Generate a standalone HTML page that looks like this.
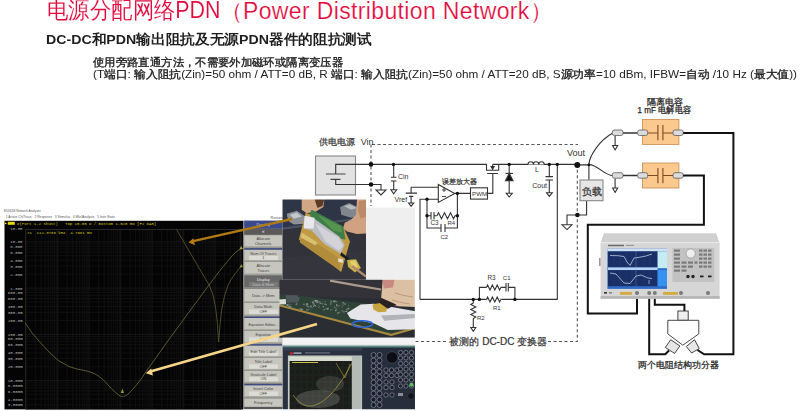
<!DOCTYPE html>
<html><head><meta charset="utf-8">
<style>
html,body{margin:0;padding:0;background:#fff;}
body{width:800px;height:411px;position:relative;overflow:hidden;font-family:"Liberation Sans",sans-serif;}
.t{position:absolute;white-space:nowrap;line-height:1;}
#title{left:47px;top:-1px;font-size:23px;-webkit-text-stroke:0.12px #fff;paint-order:fill stroke;letter-spacing:0px;color:#e2083b;transform-origin:0 0;transform:scaleX(0.93);}
#title2{left:219.6px;top:0.4px;font-size:23px;-webkit-text-stroke:0.22px #fff;color:#e2083b;letter-spacing:0.36px;}
#sub{left:46px;top:33px;font-size:13.5px;transform-origin:0 0;transform:scaleX(1.049);font-weight:bold;color:#1e1e1e;}
#l3{left:93px;top:56.5px;font-size:11.3px;font-weight:500;transform-origin:0 0;transform:scaleX(1.033);color:#222;}
#l4{left:93px;top:69px;font-size:11px;font-weight:500;transform-origin:0 0;transform:scaleX(1.068);color:#222;}
svg{position:absolute;left:0;top:0;}
.c{-webkit-text-stroke:0.35px #222;}
</style></head><body>
<div class="t" id="title">电源分配网络PDN</div><div class="t" id="title2">（Power Distribution Network）</div>
<div class="t" id="sub">DC-DC和PDN输出阻抗及无源PDN器件的阻抗测试</div>
<div class="t" id="l3"><span class="c">使用旁路直通方法，不需要外加磁环或隔离变压器</span></div>
<div class="t" id="l4">(T<span class="c">端口</span>: <span class="c">输入阻抗</span>(Zin)=50 ohm / ATT=0 dB, R <span class="c">端口</span>: <span class="c">输入阻抗</span>(Zin)=50 ohm / ATT=20 dB, S<span class="c">源功率</span>=10 dBm, IFBW=<span class="c">自动</span> /10 Hz (<span class="c">最大值</span>))</div>

<svg width="800" height="411" viewBox="0 0 800 411" font-family="Liberation Sans, sans-serif">
<defs>
<linearGradient id="g1" x1="0" y1="0" x2="0" y2="1"><stop offset="0" stop-color="#2a2c32"/><stop offset="1" stop-color="#34363d"/></linearGradient>
<filter id="bl" x="-5%" y="-5%" width="110%" height="110%"><feGaussianBlur stdDeviation="0.45"/></filter>
<clipPath id="c1"><rect x="282.5" y="199.5" width="83.5" height="80.3"/></clipPath>
<clipPath id="c2"><rect x="279.5" y="279.7" width="135.3" height="58.1"/></clipPath>
<clipPath id="c3"><rect x="282.5" y="345.6" width="132.5" height="63.6"/></clipPath>
</defs>
<!-- ============ ANALYZER SCREENSHOT ============ -->
<g id="analyzer">
<text x="4" y="212" font-size="4.3" fill="#555" textLength="36.8" lengthAdjust="spacingAndGlyphs">E5061B Network Analyzer</text>
<text x="5.8" y="218.4" font-size="4" fill="#555" xml:space="preserve" textLength="109" lengthAdjust="spacingAndGlyphs">1 Active Ch/Trace   2 Response   3 Stimulus   4 Mkr/Analysis   5 Instr State</text>
<text x="270.5" y="218.6" font-size="4" fill="#555">Resize</text>
<rect x="4.5" y="220.8" width="239" height="188.6" fill="#040404"/>
<g stroke-width="0.8" fill="none">
<path d="M35.7 229.5V409" stroke="#131313"/>
<path d="M41.2 229.5V409" stroke="#131313"/>
<path d="M45.2 229.5V409" stroke="#131313"/>
<path d="M48.2 229.5V409" stroke="#131313"/>
<path d="M50.7 229.5V409" stroke="#131313"/>
<path d="M52.8 229.5V409" stroke="#131313"/>
<path d="M54.6 229.5V409" stroke="#131313"/>
<path d="M56.3 229.5V409" stroke="#131313"/>
<path d="M57.7 229.5V409" stroke="#1b1b1b"/>
<path d="M67.2 229.5V409" stroke="#131313"/>
<path d="M72.7 229.5V409" stroke="#131313"/>
<path d="M76.7 229.5V409" stroke="#131313"/>
<path d="M79.7 229.5V409" stroke="#131313"/>
<path d="M82.2 229.5V409" stroke="#131313"/>
<path d="M84.3 229.5V409" stroke="#131313"/>
<path d="M86.1 229.5V409" stroke="#131313"/>
<path d="M87.8 229.5V409" stroke="#131313"/>
<path d="M89.2 229.5V409" stroke="#1b1b1b"/>
<path d="M98.7 229.5V409" stroke="#131313"/>
<path d="M104.2 229.5V409" stroke="#131313"/>
<path d="M108.2 229.5V409" stroke="#131313"/>
<path d="M111.2 229.5V409" stroke="#131313"/>
<path d="M113.7 229.5V409" stroke="#131313"/>
<path d="M115.8 229.5V409" stroke="#131313"/>
<path d="M117.6 229.5V409" stroke="#131313"/>
<path d="M119.3 229.5V409" stroke="#131313"/>
<path d="M120.7 229.5V409" stroke="#1b1b1b"/>
<path d="M130.2 229.5V409" stroke="#131313"/>
<path d="M135.7 229.5V409" stroke="#131313"/>
<path d="M139.7 229.5V409" stroke="#131313"/>
<path d="M142.7 229.5V409" stroke="#131313"/>
<path d="M145.2 229.5V409" stroke="#131313"/>
<path d="M147.3 229.5V409" stroke="#131313"/>
<path d="M149.1 229.5V409" stroke="#131313"/>
<path d="M150.8 229.5V409" stroke="#131313"/>
<path d="M152.2 229.5V409" stroke="#1b1b1b"/>
<path d="M161.7 229.5V409" stroke="#131313"/>
<path d="M167.2 229.5V409" stroke="#131313"/>
<path d="M171.2 229.5V409" stroke="#131313"/>
<path d="M174.2 229.5V409" stroke="#131313"/>
<path d="M176.7 229.5V409" stroke="#131313"/>
<path d="M178.8 229.5V409" stroke="#131313"/>
<path d="M180.6 229.5V409" stroke="#131313"/>
<path d="M182.3 229.5V409" stroke="#131313"/>
<path d="M183.7 229.5V409" stroke="#1b1b1b"/>
<path d="M193.2 229.5V409" stroke="#131313"/>
<path d="M198.7 229.5V409" stroke="#131313"/>
<path d="M202.7 229.5V409" stroke="#131313"/>
<path d="M205.7 229.5V409" stroke="#131313"/>
<path d="M208.2 229.5V409" stroke="#131313"/>
<path d="M210.3 229.5V409" stroke="#131313"/>
<path d="M212.1 229.5V409" stroke="#131313"/>
<path d="M213.8 229.5V409" stroke="#131313"/>
<path d="M215.2 229.5V409" stroke="#1b1b1b"/>
<path d="M224.7 229.5V409" stroke="#131313"/>
<path d="M230.2 229.5V409" stroke="#131313"/>
<path d="M234.2 229.5V409" stroke="#131313"/>
<path d="M237.2 229.5V409" stroke="#131313"/>
<path d="M239.7 229.5V409" stroke="#131313"/>
<path d="M25.8 404.9H241" stroke="#131313"/>
<path d="M25.8 399.1H241" stroke="#131313"/>
<path d="M25.8 394.6H241" stroke="#131313"/>
<path d="M25.8 391.0H241" stroke="#131313"/>
<path d="M25.8 387.9H241" stroke="#131313"/>
<path d="M25.8 385.2H241" stroke="#131313"/>
<path d="M25.8 382.8H241" stroke="#131313"/>
<path d="M25.8 380.7H241" stroke="#1b1b1b"/>
<path d="M25.8 366.8H241" stroke="#131313"/>
<path d="M25.8 358.6H241" stroke="#131313"/>
<path d="M25.8 352.8H241" stroke="#131313"/>
<path d="M25.8 348.3H241" stroke="#131313"/>
<path d="M25.8 344.7H241" stroke="#131313"/>
<path d="M25.8 341.6H241" stroke="#131313"/>
<path d="M25.8 338.9H241" stroke="#131313"/>
<path d="M25.8 336.5H241" stroke="#131313"/>
<path d="M25.8 334.4H241" stroke="#1b1b1b"/>
<path d="M25.8 320.5H241" stroke="#131313"/>
<path d="M25.8 312.3H241" stroke="#131313"/>
<path d="M25.8 306.5H241" stroke="#131313"/>
<path d="M25.8 302.0H241" stroke="#131313"/>
<path d="M25.8 298.4H241" stroke="#131313"/>
<path d="M25.8 295.3H241" stroke="#131313"/>
<path d="M25.8 292.6H241" stroke="#131313"/>
<path d="M25.8 290.2H241" stroke="#131313"/>
<path d="M25.8 288.1H241" stroke="#1b1b1b"/>
<path d="M25.8 274.2H241" stroke="#131313"/>
<path d="M25.8 266.0H241" stroke="#131313"/>
<path d="M25.8 260.2H241" stroke="#131313"/>
<path d="M25.8 255.7H241" stroke="#131313"/>
<path d="M25.8 252.1H241" stroke="#131313"/>
<path d="M25.8 249.0H241" stroke="#131313"/>
<path d="M25.8 246.3H241" stroke="#131313"/>
<path d="M25.8 243.9H241" stroke="#131313"/>
<path d="M25.8 241.8H241" stroke="#1b1b1b"/>
</g>
<rect x="25.8" y="229.5" width="215.2" height="180" fill="none" stroke="#3a3a3a" stroke-width="0.7"/>
<g font-family="Liberation Mono, monospace" font-size="4.1" fill="#b8b8b8" text-anchor="end">
<text x="22.6" y="230.3">15.00</text>
<text x="22.6" y="243.3">10.00</text>
<text x="22.6" y="247.8">8.000</text>
<text x="22.6" y="253.6">6.000</text>
<text x="22.6" y="261.7">4.000</text>
<text x="22.6" y="267.5">3.000</text>
<text x="22.6" y="275.7">2.000</text>
<text x="22.6" y="289.6">1.000</text>
<text x="22.6" y="294.1">800.0m</text>
<text x="22.6" y="299.9">600.0m</text>
<text x="22.6" y="308.0">400.0m</text>
<text x="22.6" y="313.8">300.0m</text>
<text x="22.6" y="322.0">200.0m</text>
<text x="22.6" y="335.9">100.0m</text>
<text x="22.6" y="340.4">80.00m</text>
<text x="22.6" y="346.2">60.00m</text>
<text x="22.6" y="354.3">40.00m</text>
<text x="22.6" y="360.1">30.00m</text>
<text x="22.6" y="368.3">20.00m</text>
<text x="22.6" y="382.2">10.00m</text>
<text x="22.6" y="386.7">8.000m</text>
<text x="22.6" y="392.5">6.000m</text>
<text x="22.6" y="400.6">4.000m</text>
<text x="22.6" y="406.4">3.000m</text>
</g>
<path d="M4.8 222.2L7 223.4L4.8 224.6Z" fill="#f0e000"/>
<rect x="7.8" y="221.8" width="7" height="3" fill="#e8d800"/>
<text x="17" y="225.2" font-family="Liberation Mono, monospace" font-size="4" fill="#d8c800" xml:space="preserve">Z(Port 1-2 Shunt)   Top 15.00 Ω / Bottom 1.020 mΩ [F2 DAR]</text>
<text x="27" y="234" font-family="Liberation Mono, monospace" font-size="4" fill="#d8c800" xml:space="preserve">&gt;1  112.3788 kHz  4.7681 mΩ</text>
<polyline points="25.3,323 32,333 39,341 49,352 59,361 69,366.5 77,369 85,370.6 91,372.2 97,375 103,379.5 108,385 112,389.2 115.5,392.6 119,395.3 121.7,396.4 124.5,396.2 127,395 130,392.2 133.6,388.3 137,384.3 140,380.6 146,371.7 160,352 170,338 180,324.5 197.5,300.5 209,285 220,270.5 227.4,261.5 231,257 235,253 238,250.5 241,248.3" fill="none" stroke="#69643a" stroke-width="0.85"/>
<polyline points="176.5,229.5 192,256 209.5,285.7 213,295 215.5,307 217.3,322 218.6,342 220,325 221.6,310 224.5,296 227.7,286 231,279.5 235.3,273.6 238.5,269.5 241.2,266.3" fill="none" stroke="#5a5632" stroke-width="0.85"/>
<path d="M241 246L243 249L239.5 249.5Z" fill="#b0a440"/>
<path d="M241.2 264.2L243 267L239.6 267.5Z" fill="#a09840"/>
<path d="M122.4 388.5L124 393H120.8Z" fill="#9a9040"/>
<rect x="243.2" y="220.7" width="39.3" height="188.4" fill="#8c8c88"/>
<rect x="244.3" y="406.6" width="38" height="2.5" fill="#55565a"/>
<rect x="244.3" y="220.7" width="38" height="8" fill="#3b4a8e"/>
<text x="263.3" y="226.3" fill="#d8dcf0" text-anchor="middle" font-size="4.2">Display</text>
<rect x="244.3" y="228.7" width="38" height="6" fill="#5a5a5a"/>
<text x="263.3" y="233.3" fill="#eee" text-anchor="middle" font-size="4.5">«</text>
<rect x="244.3" y="235.3" width="38" height="11.9" fill="#c6c6be"/>
<path d="M244.3 246.7H282.3" stroke="#9a9a94" stroke-width="0.8"/>
<text x="263.3" y="240.1" fill="#444" text-anchor="middle" font-size="3.9">Allocate</text>
<text x="263.3" y="244.8" fill="#444" text-anchor="middle" font-size="3.9">Channels</text>
<rect x="244.3" y="250" width="38" height="11.2" fill="#c6c6be"/>
<path d="M244.3 260.7H282.3" stroke="#9a9a94" stroke-width="0.8"/>
<rect x="249" y="255.8" width="29" height="4.0" fill="#dcdcd4"/>
<text x="263.3" y="254.5" fill="#444" text-anchor="middle" font-size="3.9">Num Of Traces</text>
<text x="263.3" y="259.0" fill="#444" text-anchor="middle" font-size="3.9">1</text>
<rect x="244.3" y="262" width="38" height="12.5" fill="#c6c6be"/>
<path d="M244.3 274.0H282.3" stroke="#9a9a94" stroke-width="0.8"/>
<text x="263.3" y="267.0" fill="#444" text-anchor="middle" font-size="3.9">Allocate</text>
<text x="263.3" y="272.0" fill="#444" text-anchor="middle" font-size="3.9">Traces</text>
<rect x="244.3" y="275.5" width="38" height="12.7" fill="#686868"/>
<path d="M244.3 287.7H282.3" stroke="#9a9a94" stroke-width="0.8"/>
<text x="263.3" y="280.6" fill="#f0f0f0" text-anchor="middle" font-size="3.9">Display</text>
<text x="263.3" y="285.7" fill="#f0f0f0" text-anchor="middle" font-size="3.9">Data &amp; Mem</text>
<rect x="249" y="282.1" width="29" height="4.6" fill="#8a8a8a" opacity="0.5"/>
<rect x="244.3" y="289" width="38" height="13.2" fill="#c6c6be"/>
<path d="M244.3 301.7H282.3" stroke="#9a9a94" stroke-width="0.8"/>
<text x="263.3" y="297.2" fill="#444" text-anchor="middle" font-size="3.9">Data -&gt; Mem</text>
<rect x="244.3" y="303" width="38" height="12.5" fill="#c6c6be"/>
<path d="M244.3 315.0H282.3" stroke="#9a9a94" stroke-width="0.8"/>
<rect x="249" y="309.5" width="29" height="4.5" fill="#dcdcd4"/>
<text x="263.3" y="308.0" fill="#444" text-anchor="middle" font-size="3.9">Data Math</text>
<text x="263.3" y="313.0" fill="#444" text-anchor="middle" font-size="3.9">OFF</text>
<rect x="244.3" y="318" width="38" height="12.2" fill="#c6c6be"/>
<path d="M244.3 329.7H282.3" stroke="#9a9a94" stroke-width="0.8"/>
<text x="263.3" y="325.6" fill="#444" text-anchor="middle" font-size="3.9">Equation Editor...</text>
<rect x="244.3" y="331" width="38" height="12.2" fill="#c6c6be"/>
<path d="M244.3 342.7H282.3" stroke="#9a9a94" stroke-width="0.8"/>
<rect x="249" y="337.3" width="29" height="4.4" fill="#dcdcd4"/>
<text x="263.3" y="335.9" fill="#444" text-anchor="middle" font-size="3.9">Equation</text>
<text x="263.3" y="340.8" fill="#444" text-anchor="middle" font-size="3.9">OFF</text>
<rect x="244.3" y="345.3" width="38" height="11.9" fill="#c6c6be"/>
<path d="M244.3 356.7H282.3" stroke="#9a9a94" stroke-width="0.8"/>
<rect x="249" y="351.5" width="29" height="4.3" fill="#dcdcd4"/>
<text x="263.3" y="352.7" fill="#444" text-anchor="middle" font-size="3.9">Edit Title Label</text>
<rect x="244.3" y="358" width="38" height="12.2" fill="#c6c6be"/>
<path d="M244.3 369.7H282.3" stroke="#9a9a94" stroke-width="0.8"/>
<rect x="249" y="364.3" width="29" height="4.4" fill="#dcdcd4"/>
<text x="263.3" y="362.9" fill="#444" text-anchor="middle" font-size="3.9">Title Label</text>
<text x="263.3" y="367.8" fill="#444" text-anchor="middle" font-size="3.9">OFF</text>
<rect x="244.3" y="371" width="38" height="11.8" fill="#c6c6be"/>
<path d="M244.3 382.3H282.3" stroke="#9a9a94" stroke-width="0.8"/>
<rect x="249" y="377.1" width="29" height="4.2" fill="#dcdcd4"/>
<text x="263.3" y="375.7" fill="#444" text-anchor="middle" font-size="3.9">Graticule Label</text>
<text x="263.3" y="380.4" fill="#444" text-anchor="middle" font-size="3.9">ON</text>
<rect x="244.3" y="385.3" width="38" height="11.9" fill="#c6c6be"/>
<path d="M244.3 396.7H282.3" stroke="#9a9a94" stroke-width="0.8"/>
<rect x="249" y="391.5" width="29" height="4.3" fill="#dcdcd4"/>
<text x="263.3" y="390.1" fill="#444" text-anchor="middle" font-size="3.9">Invert Color</text>
<text x="263.3" y="394.8" fill="#444" text-anchor="middle" font-size="3.9">OFF</text>
<rect x="244.3" y="398.6" width="38" height="8.2" fill="#c6c6be"/>
<text x="263.3" y="404.3" fill="#444" text-anchor="middle" font-size="3.9">Frequency</text>
<rect x="244.3" y="248.2" width="38" height="1.4" fill="#3d4a86"/>
<rect x="244.3" y="316.6" width="38" height="1.4" fill="#3d4a86"/>
<rect x="244.3" y="344.2" width="38" height="1.4" fill="#3d4a86"/>
<rect x="244.3" y="383.9" width="38" height="1.4" fill="#3d4a86"/>
</g>
<!-- ============ CIRCUIT ============ -->
<g id="circuit" fill="none" stroke="#333" stroke-width="1.1">
  <!-- dashed DUT box -->
  <path d="M372 144.5H578M371 144.5V206M415.5 341.5H448M548 341.5H577.3V165" stroke="#555" stroke-dasharray="3 2.5"/>
  <!-- power supply box -->
  <rect x="315.5" y="156" width="40" height="39" fill="#e2e2e2" stroke="#888"/>
  <path d="M326 174H345.5M330.5 179.4H340.5" stroke="#444"/>
  <path d="M335.7 174V164.4H486.5V170.2H498.7V164.4H577.3M492.6 164.4H498.7M492.6 164.4V170.2M335.7 179.4V184.5H371H381V190" />
  <path d="M376 190H386L381 195Z" />
  <!-- Cin -->
  <path d="M393.7 164.4V177.3M390.9 177.3H396.5M390.9 181H396.5M393.7 181V189.7" />
  <path d="M390.9 189.7H396.6L393.7 193.7Z"/>
  <!-- Vref -->
  <path d="M411.1 187.3V193.1M405.7 193.1H417M409 196.4H413.3M411.1 196.4V203M411.1 187.3H438.3"/>
  <path d="M408.6 203H413.7L411.1 206.3Z"/>
  <!-- opamp -->
  <path d="M438.3 184.5V202.4L454.7 193.4Z" fill="#fff"/>
  <path d="M442 190H446M444 188V192M442 196.5H446" stroke-width="0.9"/>
  <path d="M454.7 193.4H470.5M487.5 193.4H492.8V173.5M487.1 173.5H498" />
  <path d="M491 166.5L494.2 166.5L492.6 169Z" fill="#222"/>
  <rect x="470.5" y="187.8" width="17" height="11.3" fill="#fff"/>
  <!-- feedback network -->
  <path d="M420 299.4V199.3H438.3M427 199.3V228H441M445 228H457.4V193.4M427 215.7H431M434 215.7H437"/>
  <path d="M431 212V219.5M434 212V219.5M441 224V232M445 224V232"/>
  <path d="M437 215.7l1.5 -3l3 6l3 -6l3 6l3 -6l3 6l1.5 -3H457.4"/>
  <!-- diode -->
  <path d="M509.2 164.4V193"/>
  <path d="M505.5 180.6H513L509.2 173.4Z" fill="#111"/>
  <path d="M505.5 173.4H513"/>
  <path d="M506.2 193.3H512.3L509.2 197Z"/>
  <!-- inductor -->
  <path d="M528 164.4a2.7 2.7 0 0 1 5.4 0a2.7 2.7 0 0 1 5.4 0a2.7 2.7 0 0 1 5.4 0" fill="#fff"/>
  <!-- cout -->
  <path d="M549.3 164.4V176.6M545.5 176.6H553M545.5 180H553M549.3 180V193"/>
  <path d="M546.5 192.8H552.3L549.3 196.4Z"/>
  <!-- long vertical & bottom R network -->
  <path d="M557.3 164.4V299.4H420"/>
  <path d="M479.4 299.4V287.4H486.4M500.7 287.4H506M508.3 287.4H514.9V299.4"/>
  <path d="M506 283V291.5M508.3 283V291.5"/>
  <path d="M486.4 287.4l1.2 -2.5l2.4 5l2.4 -5l2.4 5l2.4 -5l2.4 5l1.2 -2.5"/>
  <path d="M486.4 299.4l1.2 -2.5l2.4 5l2.4 -5l2.4 5l2.4 -5l2.4 5l1.2 -2.5" stroke="#fff" stroke-width="3"/>
  <path d="M486.4 299.4l1.2 -2.5l2.4 5l2.4 -5l2.4 5l2.4 -5l2.4 5l1.2 -2.5"/>
  <path d="M473.3 299.4V303l-2.5 1.5l5 2.5l-5 2.5l5 2.5l-5 2.5l5 2.5l-2.5 1.5V327.5"/>
  <path d="M470.8 327.5H475.8L473.3 331.2Z"/>
  <!-- Vout to load -->
  <path d="M577.3 164.9H588.9V180M586.6 200.7V215H567V224.8"/>
  <path d="M562 224.8H572L567 229.6Z"/>
  <rect x="580" y="180" width="23" height="20.7" fill="#e6e6e6" stroke="#888"/>
  <!-- split to connectors -->
  <path d="M588.9 164.6C589.5 155 600 140 612.8 133M588.9 164.6C598 164.6 604 175.5 612.8 175.5"/>
  <path d="M615.1 135.5V145.5M615.1 178.5V188"/>
  <path d="M612.6 145.5H617.7L615.1 150Z M612.6 188H617.7L615.1 192.5Z"/>
  <path d="M623 133H637.6M623 175.5H637.6" stroke-width="1.4"/>
</g>
<!-- nodes -->
<g fill="#111">
  <circle cx="371" cy="164.4" r="2.3"/><circle cx="371" cy="184.5" r="2.3"/>
  <circle cx="393.5" cy="164.4" r="1.7"/>
  <circle cx="427" cy="199.3" r="1.7"/><circle cx="427" cy="215.7" r="1.7"/>
  <circle cx="457.4" cy="193.4" r="1.7"/><circle cx="457.4" cy="215.7" r="1.7"/>
  <circle cx="509.2" cy="164.4" r="1.7"/><circle cx="549.3" cy="164.4" r="1.7"/>
  <circle cx="557.3" cy="164.4" r="1.7"/><circle cx="577.3" cy="164.9" r="3"/>
  <circle cx="577.4" cy="215" r="2.3"/>
  <circle cx="473.3" cy="299.4" r="1.7"/><circle cx="479.4" cy="299.4" r="1.7"/><circle cx="514.9" cy="299.4" r="1.7"/>
  <circle cx="588.9" cy="164.9" r="1.4"/>
</g>
<!-- connectors -->
<g fill="#dcdcdc" stroke="#5a5a5a" stroke-width="0.8">
  <rect x="612.3" y="130" width="10.7" height="5.5" rx="2"/>
  <rect x="612.3" y="172.7" width="10.7" height="5.5" rx="2"/>
</g>
<!-- cap boxes -->
<g>
  <rect x="642.4" y="119.4" width="36.5" height="25" fill="#fbc88e" stroke="#c9884a" stroke-width="0.8"/>
  <rect x="642.4" y="163" width="36.5" height="25" fill="#fbc88e" stroke="#c9884a" stroke-width="0.8"/>
  <g fill="#dcdcdc" stroke="#5a5a5a" stroke-width="0.8">
    <rect x="637.6" y="130" width="10.1" height="5.5" rx="2"/><rect x="673" y="130" width="10.2" height="5.5" rx="2"/>
    <rect x="637.6" y="172.7" width="10.1" height="5.5" rx="2"/><rect x="673" y="172.7" width="10.2" height="5.5" rx="2"/>
  </g>
  <path d="M647.7 133H657.9M657.9 125V140.2M662.9 125V140.2M662.9 133H673M647.7 175.5H657.9M657.9 168V183.2M662.9 168V183.2M662.9 175.5H673" stroke="#7a4a20" stroke-width="1.1" fill="none"/>
</g>
<!-- thick cables -->
<g fill="none" stroke="#111" stroke-width="2">
  <path d="M683.2 133H733.4V354.3H704.2L697.5 350"/>
  <path d="M683.2 175.5H703.9V224.7H587.8V313.5H637V296"/>
  <path d="M649.2 296V354.3H665.3L669 350.5"/>
  <path d="M654.8 296V304.7H684.4V311"/>
</g>
<!-- E5061B analyzer -->
<g>
  <path d="M604 233.4H716L719.6 243V298.8H600.6V243Z" fill="#d6d6d6"/>
  <path d="M604 233.4H716L719 242H601.2Z" fill="#d0d0d0"/>
  <rect x="600.8" y="242" width="118.6" height="1.2" fill="#e6e6e6"/>
  <rect x="600.6" y="296" width="119" height="2.8" fill="#b8b8b8"/>
  <rect x="599" y="258" width="1.6" height="8" fill="#999"/>
  <rect x="608" y="244.8" width="16" height="1.4" fill="#666"/>
  <rect x="626" y="244.8" width="8" height="1.2" fill="#999"/>
  <rect x="607.4" y="248.7" width="59.6" height="40.2" fill="#2f6cc8"/>
  <rect x="607.4" y="248.7" width="59.6" height="2.7" fill="#cfe0f2"/>
  <rect x="608" y="251.4" width="49.6" height="16" fill="#1a2f66"/>
  <rect x="608" y="267.4" width="49.6" height="2.7" fill="#b4d2f2"/>
  <rect x="608" y="270.1" width="49.6" height="16.1" fill="#1a2f66"/>
  <rect x="657.6" y="251.4" width="9.4" height="16.8" fill="#c4ecf4"/>
  <rect x="657.6" y="270.1" width="9.4" height="16.1" fill="#3692ee"/>
  <g stroke="#2a4580" stroke-width="0.4">
    <path d="M614 251.4V267.4M620 251.4V267.4M626 251.4V267.4M632 251.4V267.4M644 251.4V267.4M650 251.4V267.4M614 270.1V286.2M620 270.1V286.2M626 270.1V286.2M632 270.1V286.2M644 270.1V286.2M650 270.1V286.2"/>
  </g>
  <path d="M636 251.4V286.2" stroke="#8ab0e0" stroke-width="0.6" stroke-dasharray="1 1"/>
  <path d="M610 255.5L618 255.7L624 256.5L627 262L630 265.5L634 258L638 257.5L646 256L652 254" stroke="#d0dcf0" stroke-width="0.7" fill="none"/>
  <path d="M610 273L616 274L624 283L630 283.5L636 276L641 275L648 278L652 278.5" stroke="#d0dcf0" stroke-width="0.7" fill="none"/>
  <path d="M649 280V284" stroke="#d0dcf0" stroke-width="0.6"/>
  <rect x="672.4" y="248" width="42" height="34" fill="#c2c2c2"/>
  <circle cx="690.7" cy="253.5" r="4.6" fill="#eeeeee" stroke="#8a8a8a" stroke-width="0.6"/>
  <g fill="#7a7a7a">
    <rect x="674" y="249.5" width="6" height="2.2"/><rect x="674" y="253.5" width="6" height="2.2"/><rect x="674" y="257.5" width="6" height="2.2"/>
    <rect x="674" y="261.5" width="6" height="2.2"/><rect x="674" y="265.5" width="6" height="2.2"/><rect x="674" y="269.5" width="6" height="2.2"/>
    <rect x="681.5" y="261.5" width="5" height="2.2"/><rect x="681.5" y="265.5" width="5" height="2.2"/><rect x="681.5" y="269.5" width="5" height="2.2"/>
    <rect x="688" y="261.5" width="5" height="2.2"/><rect x="688" y="265.5" width="5" height="2.2"/><rect x="694.5" y="261.5" width="3" height="2.2"/>
    <rect x="699" y="249.5" width="3.5" height="2.2"/><rect x="703.5" y="249.5" width="3.5" height="2.2"/><rect x="708" y="249.5" width="3.5" height="2.2"/>
    <rect x="699" y="253.5" width="3.5" height="2.2"/><rect x="703.5" y="253.5" width="3.5" height="2.2"/><rect x="708" y="253.5" width="3.5" height="2.2"/>
    <rect x="699" y="257.5" width="3.5" height="2.2"/><rect x="703.5" y="257.5" width="3.5" height="2.2"/><rect x="708" y="257.5" width="3.5" height="2.2"/>
    <rect x="699" y="261.5" width="3.5" height="2.2"/><rect x="703.5" y="261.5" width="3.5" height="2.2"/><rect x="708" y="261.5" width="3.5" height="2.2"/>
    <rect x="699" y="265.5" width="3.5" height="2.2"/><rect x="703.5" y="265.5" width="3.5" height="2.2"/><rect x="708" y="265.5" width="3.5" height="2.2"/>
  </g>
  <g fill="#222"><circle cx="688" cy="276.5" r="1.7"/><circle cx="693" cy="276.5" r="1.7"/><rect x="700" y="275.5" width="3.5" height="1.8"/><rect x="708" y="275.5" width="3.5" height="1.8"/></g>
  <rect x="620" y="292" width="12" height="2.8" fill="#d4aa40"/>
  <rect x="663" y="292" width="15" height="2.8" fill="#d4aa40"/>
  <g fill="#7a7a7a"><circle cx="637" cy="293" r="2"/><circle cx="649.2" cy="293" r="2"/><circle cx="654.8" cy="293" r="2"/><circle cx="681" cy="293" r="2"/><circle cx="708" cy="293" r="2"/></g>
  <rect x="604" y="292" width="3" height="1.6" fill="#333"/><rect x="609" y="292" width="3" height="1.6" fill="#888"/>
</g>
<!-- splitter -->
<g fill="#fff" stroke="#333" stroke-width="0.9">
  <rect x="677.9" y="311" width="10.3" height="9.3" fill="#efefef"/>
  <path d="M667.8 320.3H698.8V333.9L682.8 345.2L667.8 333.9Z"/>
  <path d="M665.3 347.5L670.7 339.7L679.9 346L674.6 353.4Z" fill="#e6e6e6"/>
  <path d="M686.3 346.5L694.5 339.7L699.3 348.5L691.6 353Z" fill="#e6e6e6"/>
</g>
<!-- circuit labels -->
<g fill="#333" font-size="7">
  <text x="398" y="178.8">Cin</text>
  <text x="394.6" y="201.6">Vref</text>
  <text x="472" y="196.2" font-size="6.2">PWM</text>
  <text x="535" y="171.5">L</text>
  <text x="532.2" y="188">Cout</text>
  <text x="430.5" y="224.5" font-size="6.4">C3</text>
  <text x="447.5" y="224.5" font-size="6">R4</text>
  <text x="440.5" y="239" font-size="6">C2</text>
  <text x="487.5" y="279.5" font-size="6.4">R3</text>
  <text x="502.8" y="279.5" font-size="6">C1</text>
  <text x="493" y="310" font-size="6">R1</text>
  <text x="477" y="320" font-size="6">R2</text>
</g>
<text x="360.7" y="145" font-size="9" fill="#333">Vin</text>
<text x="567" y="155.5" font-size="9" fill="#333">Vout</text>
<text x="318.7" y="145" font-size="9" fill="#333" stroke="#333" stroke-width="0.22">供电电源</text>
<text x="441.5" y="184.3" font-size="7" fill="#333" stroke="#333" stroke-width="0.22">误差放大器</text>
<text x="581.5" y="194.5" font-size="9.5" fill="#333" stroke="#333" stroke-width="0.22">负载</text>
<text x="449.4" y="345.4" font-size="10" fill="#333" stroke="#333" stroke-width="0.22">被测的 DC-DC 变换器</text>
<text x="646.7" y="104.6" font-size="8.8" fill="#222" stroke="#222" stroke-width="0.25">隔离电容</text>
<text x="637.5" y="113.4" font-size="8.8" fill="#222" stroke="#222" stroke-width="0.25" textLength="53.5" lengthAdjust="spacingAndGlyphs">1 mF 电解电容</text>
<text x="638.4" y="368.2" font-size="8.6" fill="#222" stroke="#222" stroke-width="0.25">两个电阻结构功分器</text>
<g id="photo1" clip-path="url(#c1)" filter="url(#bl)">
<rect x="282" y="199" width="84" height="81" fill="#2d3038"/>
<path d="M282.0 199.0L366.0 199.0L366.0 217.7L282.0 228.6Z" fill="#2e3446"/>
<path d="M282.0 227.6L366.0 216.8L366.0 218.7L282.0 230.0Z" fill="#4a5266"/>
<path d="M282.0 230.0L366.0 218.7L366.0 280.1L282.0 280.1Z" fill="#30323a"/>
<path d="M282.0 258.2L366.0 250.3L366.0 280.1L282.0 280.1Z" fill="#34363e"/>
<!-- connectors -->
<path d="M340.2 206.9L349.1 202.9L359.9 207.9L359.9 215.8L351.0 217.7L341.2 214.8Z" fill="#80868e"/>
<path d="M344.1 205.9L350.0 204.5L357.0 207.9L351.0 209.8Z" fill="#b6bac0"/>
<path d="M286.9 213.8L296.8 210.8L305.7 216.8L304.7 223.7L293.8 224.6L287.9 220.7Z" fill="#8e9298"/>
<path d="M289.9 214.8L296.8 212.4L301.7 216.4L293.8 218.7Z" fill="#c4c8cc"/>
<!-- top hand -->
<path d="M301.7 199.0L324.4 199.0L323.4 206.9L315.5 211.8L306.7 213.2L301.7 209.8Z" fill="#d0a684"/>
<path d="M314.5 199.0L324.4 199.0L322.4 205.9L317.5 207.9Z" fill="#5a3a28"/>
<!-- right hand -->
<path d="M357.0 199.0L366.0 199.0L366.0 233.5L357.0 234.1L347.1 231.5L343.1 228.6L344.7 222.7L351.0 219.7L356.0 214.8Z" fill="#d0a282"/>
<path d="M358.9 201.0L366.0 200.0L366.0 216.8L360.9 218.7L357.9 210.8Z" fill="#bb8a6a"/>
<!-- PCB -->
<path d="M305.7 212.8L343.1 226.6L350.0 241.4L341.2 272.0L298.8 239.4Z" fill="#c09a44"/>
<path d="M311.6 209.8L343.1 226.2L345.5 239.4L332.3 237.5L313.6 222.7L309.6 213.8Z" fill="#3f7e46"/>
<path d="M317.5 214.8L341.2 226.6L342.2 232.5L333.3 230.6Z" fill="#55944f"/>
<path d="M304.7 215.8L314.5 218.7L339.2 236.5L344.7 244.8L340.8 253.8L324.4 244.0L311.6 230.6L303.7 228.6Z" fill="#bcbcc4"/>
<path d="M304.7 215.8L314.5 217.7L313.6 228.6L303.7 228.2Z" fill="#e8e8ec"/>
<path d="M315.5 223.7L338.2 237.5L343.1 245.4L339.2 250.7L325.4 241.4Z" fill="#d2d2d8"/>
<path d="M300.7 236.5L321.4 246.3L339.2 258.2L340.2 270.0L327.4 262.1L299.8 242.4Z" fill="#b08c3a"/>
<path d="M301.7 232.5L317.5 242.4L315.5 245.4L300.7 237.5Z" fill="#d8c070"/>
<!-- sma & cables -->
<path d="M341.2 252.3L349.1 258.2L348.1 260.5L340.2 255.2Z" fill="#1c1c1e"/>
<path d="M338.2 258.2L343.1 259.2L342.7 263.1L338.0 261.7Z" fill="#e2dccc"/>
<path d="M347.1 260.1L356.0 259.2L360.9 268.0L355.0 272.4L348.1 267.0Z" fill="#c8b04a"/>
<path d="M350.0 261.1L355.4 260.5L357.9 267.0L353.0 269.0Z" fill="#e2d070"/>
<path d="M352 266Q360 272 366 276.5" stroke="#b08a6a" stroke-width="2.2" fill="none"/>
</g>
<rect x="366" y="207.6" width="49" height="72" fill="#efefef"/>
<g id="photo2" clip-path="url(#c2)" filter="url(#bl)">
<rect x="279" y="279" width="136" height="59" fill="#2c2e33"/>
<path d="M279.0 279.0L415.1 279.0L415.1 299.4L279.0 296.0Z" fill="#303238"/>
<path d="M330 280.6Q356 285.5 381 289.5" stroke="#ae9a8c" stroke-width="2.2" fill="none"/>
<!-- board -->
<path d="M279.0 295.2L284.1 294.0L358.9 302.8L415.1 310.5L415.1 329.2L391.2 336.0L279.0 306.2Z" fill="#2f4339"/>
<path d="M279.0 304.2L391.2 333.8L415.1 327.0L415.1 329.2L391.2 336.1L279.0 306.2Z" fill="#a8883e"/>
<rect x="330.3" y="309.5" width="0.8" height="1.0" fill="#8a8f8c"/><rect x="353.2" y="311.1" width="1.0" height="1.0" fill="#7f8a86"/><rect x="303.4" y="303.7" width="1.2" height="1.3" fill="#8a8f8c"/><rect x="315.0" y="300.6" width="1.1" height="1.3" fill="#9aa6a0"/><rect x="295.7" y="303.7" width="1.0" height="1.5" fill="#7f8a86"/><rect x="286.2" y="304.4" width="2.2" height="0.9" fill="#7f8a86"/><rect x="354.5" y="309.8" width="1.1" height="1.5" fill="#7f8a86"/><rect x="299.9" y="308.5" width="1.3" height="0.9" fill="#9aa6a0"/><rect x="297.7" y="298.2" width="1.3" height="1.3" fill="#6a7670"/><rect x="327.7" y="307.3" width="0.9" height="0.9" fill="#56625c"/><rect x="307.7" y="306.2" width="1.6" height="1.2" fill="#7f8a86"/><rect x="289.9" y="307.3" width="2.3" height="0.9" fill="#6a7670"/><rect x="314.7" y="305.2" width="1.4" height="1.1" fill="#9aa6a0"/><rect x="286.5" y="295.8" width="1.8" height="1.5" fill="#7f8a86"/><rect x="294.3" y="299.0" width="1.4" height="0.9" fill="#9aa6a0"/><rect x="323.3" y="309.1" width="1.7" height="1.3" fill="#6a7670"/><rect x="312.0" y="301.7" width="2.3" height="0.7" fill="#9aa6a0"/><rect x="310.1" y="305.4" width="1.3" height="1.4" fill="#7f8a86"/><rect x="324.7" y="303.3" width="1.3" height="1.3" fill="#56625c"/><rect x="330.6" y="309.3" width="2.4" height="0.7" fill="#56625c"/><rect x="289.3" y="307.4" width="2.3" height="0.6" fill="#8a8f8c"/><rect x="338.7" y="305.4" width="1.5" height="1.0" fill="#56625c"/><rect x="289.8" y="306.6" width="2.1" height="0.9" fill="#6a7670"/><rect x="300.6" y="308.8" width="2.3" height="1.2" fill="#8a8f8c"/><rect x="342.1" y="302.6" width="1.4" height="0.7" fill="#9aa6a0"/><rect x="315.8" y="300.2" width="2.2" height="1.5" fill="#8a8f8c"/><rect x="318.2" y="304.8" width="1.6" height="0.9" fill="#56625c"/><rect x="314.6" y="300.1" width="2.1" height="1.1" fill="#9aa6a0"/><rect x="298.6" y="308.0" width="1.1" height="1.0" fill="#56625c"/><rect x="322.6" y="306.1" width="1.4" height="1.3" fill="#8a8f8c"/><rect x="341.2" y="310.3" width="2.0" height="0.9" fill="#6a7670"/><rect x="336.1" y="304.2" width="1.2" height="1.5" fill="#9aa6a0"/><rect x="336.9" y="313.2" width="1.8" height="1.1" fill="#56625c"/><rect x="286.6" y="301.8" width="1.3" height="0.8" fill="#56625c"/><rect x="306.4" y="303.6" width="1.4" height="1.2" fill="#56625c"/><rect x="338.5" y="311.7" width="2.3" height="0.8" fill="#56625c"/><rect x="347.7" y="307.8" width="2.3" height="1.1" fill="#56625c"/><rect x="323.6" y="301.3" width="2.3" height="1.0" fill="#56625c"/><rect x="335.2" y="309.9" width="1.1" height="1.3" fill="#9aa6a0"/><rect x="327.3" y="308.2" width="1.3" height="1.1" fill="#9aa6a0"/><rect x="347.7" y="305.4" width="1.1" height="1.1" fill="#6a7670"/><rect x="330.4" y="302.3" width="1.8" height="0.6" fill="#7f8a86"/><rect x="319.5" y="301.6" width="2.2" height="0.7" fill="#6a7670"/><rect x="354.9" y="309.1" width="0.9" height="1.0" fill="#8a8f8c"/><rect x="313.0" y="305.7" width="1.1" height="1.2" fill="#8a8f8c"/><rect x="312.5" y="302.4" width="2.2" height="1.4" fill="#56625c"/><rect x="335.0" y="307.6" width="1.7" height="0.9" fill="#6a7670"/><rect x="306.9" y="303.8" width="1.3" height="0.9" fill="#8a8f8c"/><rect x="295.0" y="301.1" width="1.8" height="0.9" fill="#8a8f8c"/><rect x="296.0" y="303.5" width="1.6" height="0.8" fill="#8a8f8c"/><rect x="295.3" y="297.3" width="1.4" height="0.9" fill="#6a7670"/><rect x="351.3" y="309.4" width="1.8" height="1.4" fill="#56625c"/><rect x="312.6" y="303.4" width="1.6" height="1.0" fill="#7f8a86"/><rect x="336.4" y="305.6" width="1.8" height="0.8" fill="#7f8a86"/><rect x="355.9" y="309.4" width="0.8" height="1.5" fill="#9aa6a0"/><rect x="307.8" y="309.1" width="1.6" height="0.7" fill="#7f8a86"/><rect x="330.2" y="305.7" width="0.9" height="0.7" fill="#56625c"/><rect x="313.8" y="304.2" width="1.2" height="1.4" fill="#8a8f8c"/><rect x="341.7" y="304.4" width="2.2" height="1.2" fill="#56625c"/><rect x="306.2" y="303.4" width="1.6" height="1.4" fill="#9aa6a0"/><rect x="348.7" y="313.9" width="2.0" height="0.9" fill="#6a7670"/><rect x="323.9" y="303.5" width="2.0" height="0.6" fill="#56625c"/><rect x="310.8" y="306.4" width="1.0" height="0.6" fill="#8a8f8c"/><rect x="325.3" y="308.2" width="2.2" height="1.1" fill="#6a7670"/><rect x="286.8" y="304.6" width="1.8" height="1.2" fill="#9aa6a0"/><rect x="353.9" y="311.2" width="1.6" height="1.2" fill="#9aa6a0"/><rect x="337.2" y="312.5" width="2.1" height="0.7" fill="#9aa6a0"/><rect x="345.5" y="310.8" width="1.7" height="1.2" fill="#9aa6a0"/><rect x="319.5" y="302.7" width="1.6" height="1.1" fill="#7f8a86"/><rect x="321.4" y="303.2" width="1.5" height="1.1" fill="#7f8a86"/><rect x="289.3" y="304.3" width="2.1" height="1.3" fill="#56625c"/><rect x="333.2" y="300.6" width="2.4" height="1.5" fill="#9aa6a0"/><rect x="335.9" y="301.2" width="1.2" height="1.2" fill="#6a7670"/><rect x="353.8" y="312.1" width="2.4" height="1.2" fill="#7f8a86"/><rect x="317.1" y="300.8" width="1.5" height="0.7" fill="#7f8a86"/><rect x="330.3" y="300.5" width="1.9" height="1.3" fill="#6a7670"/><rect x="305.8" y="304.4" width="2.0" height="1.4" fill="#6a7670"/><rect x="295.4" y="301.4" width="1.9" height="1.0" fill="#56625c"/><rect x="311.0" y="306.1" width="1.0" height="0.9" fill="#6a7670"/><rect x="326.4" y="308.2" width="2.3" height="1.1" fill="#56625c"/><rect x="330.2" y="303.3" width="1.2" height="1.3" fill="#8a8f8c"/><rect x="306.0" y="309.4" width="2.2" height="1.0" fill="#7f8a86"/><rect x="313.6" y="299.8" width="1.8" height="0.7" fill="#6a7670"/><rect x="333.5" y="301.5" width="1.6" height="1.0" fill="#6a7670"/><rect x="313.6" y="304.0" width="1.0" height="1.1" fill="#56625c"/><rect x="324.5" y="304.2" width="2.3" height="1.0" fill="#7f8a86"/><rect x="342.5" y="311.2" width="2.4" height="1.2" fill="#6a7670"/><rect x="344.4" y="303.3" width="1.4" height="1.4" fill="#8a8f8c"/><rect x="306.5" y="308.9" width="2.1" height="0.9" fill="#56625c"/><rect x="337.4" y="305.4" width="2.1" height="1.0" fill="#56625c"/><rect x="346.6" y="308.6" width="2.4" height="0.8" fill="#8a8f8c"/><rect x="298.7" y="297.3" width="0.9" height="0.8" fill="#6a7670"/><rect x="288.6" y="306.1" width="1.9" height="0.9" fill="#9aa6a0"/><rect x="316.3" y="302.2" width="2.3" height="0.9" fill="#8a8f8c"/><rect x="318.8" y="301.1" width="0.9" height="1.4" fill="#7f8a86"/><rect x="347.9" y="308.1" width="1.2" height="0.8" fill="#8a8f8c"/><rect x="297.3" y="299.9" width="0.9" height="1.4" fill="#7f8a86"/><rect x="310.4" y="307.2" width="2.3" height="1.2" fill="#56625c"/><rect x="333.9" y="306.5" width="1.0" height="1.2" fill="#7f8a86"/><rect x="306.6" y="305.7" width="0.9" height="1.2" fill="#7f8a86"/><rect x="326.9" y="308.0" width="1.4" height="1.5" fill="#8a8f8c"/><rect x="311.8" y="301.8" width="1.4" height="0.7" fill="#9aa6a0"/><rect x="356.8" y="309.1" width="1.1" height="0.8" fill="#7f8a86"/><rect x="288.9" y="302.8" width="0.8" height="0.7" fill="#56625c"/><rect x="341.5" y="306.5" width="0.9" height="1.4" fill="#6a7670"/><rect x="345.6" y="309.1" width="1.9" height="0.8" fill="#6a7670"/><rect x="343.2" y="302.5" width="0.9" height="0.8" fill="#9aa6a0"/><rect x="289.4" y="300.3" width="0.9" height="1.4" fill="#6a7670"/><rect x="317.7" y="306.7" width="2.3" height="0.8" fill="#6a7670"/><rect x="335.5" y="308.9" width="1.7" height="0.7" fill="#7f8a86"/>
<path d="M285.8 295.2L297.7 295.2L298.6 302.0L286.7 302.8Z" fill="#50565c"/>
<path d="M279.0 299.4L285.8 299.1L286.1 304.2L279.0 304.5Z" fill="#dcdcd6"/>
<!-- foil -->
<path d="M347.0 313.0L360.6 304.5L374.2 303.7L415.1 311.3L415.1 329.2L387.8 330.0L374.2 323.6L350.4 318.5Z" fill="#e6e6ea"/>
<path d="M381.0 315.6L415.1 313.9L415.1 318.1L384.4 320.7Z" fill="#b0b2b8"/>
<ellipse cx="362.3" cy="324" rx="10.2" ry="3.3" stroke="#2a64d8" stroke-width="1.5" fill="none"/>
<path d="M372.5 304.5L381.0 302.8L387.8 306.2L386.1 311.7L378.5 312.2L373.4 309.6Z" fill="#c6a440"/>
<!-- hand -->
<path d="M382.7 279.0L415.1 279.0L415.1 307.1L398.0 306.2L387.8 302.8L381.0 299.4L381.9 289.2Z" fill="#dcc0a4"/>
<path d="M382.7 279.0L394.6 279.0L392.9 287.5L383.6 288.4Z" fill="#c88a80"/>
<path d="M381.0 297.7L396.3 304.5L387.8 308.8L379.3 302.8Z" fill="#2a2224"/>
<path d="M395 293Q404 296 413 297M392 300Q402 303 410 304" stroke="#b89478" stroke-width="0.9" fill="none"/>
</g>
<rect x="282.5" y="337.75" width="132.5" height="7.85" fill="#f3f3f3"/>
<path d="M282.5 345.2H415" stroke="#cfcfcf" stroke-width="0.8"/>
<g id="photo3" clip-path="url(#c3)" filter="url(#bl)">
<rect x="282.5" y="345.6" width="132.5" height="65" fill="#2c3242"/>
<rect x="282.5" y="345.6" width="132.5" height="2" fill="#5a8c86"/>
<rect x="282.5" y="347.6" width="132.5" height="3" fill="#384050"/>
<circle cx="291.4" cy="353.2" r="1.5" fill="#d02020"/>
<rect x="293.5" y="352.3" width="8" height="1.6" fill="#9aa0b0"/>
<rect x="305" y="352.3" width="25" height="1.2" fill="#6a7080"/>
<rect x="287.9" y="355.5" width="74.4" height="55" fill="#c6ccc0"/>
<rect x="289.2" y="357" width="62.4" height="4" fill="#d8dcd0"/>
<rect x="289.6" y="361" width="62.2" height="49.4" fill="#1a1d1a"/>
<rect x="352" y="356" width="9.4" height="54.4" fill="#b4bab6"/>
<g stroke="#2a2e2a" stroke-width="0.5">
<path d="M295 361V410M301 361V410M307 361V410M313 361V410M319 361V410M325 361V410M331 361V410M337 361V410M343 361V410M349 361V410"/>
<path d="M290 368H351M290 375H351M290 382H351M290 389H351M290 396H351M290 403H351"/>
</g>
<ellipse cx="318" cy="399" rx="22" ry="9" fill="#8a8c88" opacity="0.35"/>
<ellipse cx="330" cy="384" rx="14" ry="8" fill="#8a8c80" opacity="0.25"/>
<path d="M292 362.5H318" stroke="#c8c040" stroke-width="1"/>
<path d="M293 395Q302 408 312 406T332 393T352 363" stroke="#a8a040" stroke-width="0.7" fill="none"/>
<path d="M336 363L345 378L350 364" stroke="#a8a040" stroke-width="0.6" fill="none"/>
<rect x="362.3" y="348" width="52.5" height="63" fill="#272d3b"/>
<circle cx="392" cy="357.5" r="5.8" fill="#0e1016" stroke="#4a5262" stroke-width="0.6"/>
<circle cx="373.5" cy="355" r="2.5" fill="#1a1e28" stroke="#7a8292" stroke-width="0.8"/><circle cx="373.5" cy="360.5" r="2.5" fill="#1a1e28" stroke="#7a8292" stroke-width="0.8"/><circle cx="373.5" cy="366" r="2.5" fill="#1a1e28" stroke="#7a8292" stroke-width="0.8"/><circle cx="373.5" cy="371.5" r="2.5" fill="#1a1e28" stroke="#7a8292" stroke-width="0.8"/><circle cx="373.5" cy="377" r="2.5" fill="#1a1e28" stroke="#7a8292" stroke-width="0.8"/><circle cx="373.5" cy="382.5" r="2.5" fill="#1a1e28" stroke="#7a8292" stroke-width="0.8"/><circle cx="373.5" cy="388" r="2.5" fill="#1a1e28" stroke="#7a8292" stroke-width="0.8"/><circle cx="373.5" cy="393.5" r="2.5" fill="#1a1e28" stroke="#7a8292" stroke-width="0.8"/><circle cx="373.5" cy="399.5" r="2.5" fill="#1a1e28" stroke="#7a8292" stroke-width="0.8"/><circle cx="373.5" cy="405" r="2.5" fill="#1a1e28" stroke="#7a8292" stroke-width="0.8"/><circle cx="379.5" cy="355" r="2.5" fill="#1a1e28" stroke="#7a8292" stroke-width="0.8"/><circle cx="379.5" cy="360.5" r="2.5" fill="#1a1e28" stroke="#7a8292" stroke-width="0.8"/><circle cx="379.5" cy="366" r="2.5" fill="#1a1e28" stroke="#7a8292" stroke-width="0.8"/><circle cx="379.5" cy="371.5" r="2.5" fill="#1a1e28" stroke="#7a8292" stroke-width="0.8"/><circle cx="379.5" cy="377" r="2.5" fill="#1a1e28" stroke="#7a8292" stroke-width="0.8"/><circle cx="379.5" cy="382.5" r="2.5" fill="#1a1e28" stroke="#7a8292" stroke-width="0.8"/><circle cx="379.5" cy="388" r="2.5" fill="#1a1e28" stroke="#7a8292" stroke-width="0.8"/><circle cx="379.5" cy="393.5" r="2.5" fill="#1a1e28" stroke="#7a8292" stroke-width="0.8"/><circle cx="379.5" cy="399.5" r="2.5" fill="#1a1e28" stroke="#7a8292" stroke-width="0.8"/><circle cx="379.5" cy="405" r="2.5" fill="#1a1e28" stroke="#7a8292" stroke-width="0.8"/><circle cx="386" cy="370" r="2.2" fill="#1a1e28" stroke="#7a8292" stroke-width="0.8"/><circle cx="386" cy="375.5" r="2.2" fill="#1a1e28" stroke="#7a8292" stroke-width="0.8"/><circle cx="391.5" cy="370" r="2.2" fill="#1a1e28" stroke="#7a8292" stroke-width="0.8"/><circle cx="391.5" cy="375.5" r="2.2" fill="#1a1e28" stroke="#7a8292" stroke-width="0.8"/><circle cx="397" cy="370" r="2.2" fill="#1a1e28" stroke="#7a8292" stroke-width="0.8"/><circle cx="397" cy="375.5" r="2.2" fill="#1a1e28" stroke="#7a8292" stroke-width="0.8"/><circle cx="386" cy="382" r="2.2" fill="#1a1e28" stroke="#7a8292" stroke-width="0.8"/><circle cx="386" cy="387.5" r="2.2" fill="#1a1e28" stroke="#7a8292" stroke-width="0.8"/><circle cx="392" cy="382" r="2.2" fill="#1a1e28" stroke="#7a8292" stroke-width="0.8"/><circle cx="392" cy="387.5" r="2.2" fill="#1a1e28" stroke="#7a8292" stroke-width="0.8"/><circle cx="400.5" cy="352.5" r="2.1" fill="#1a1e28" stroke="#7a8292" stroke-width="0.8"/><circle cx="400.5" cy="358" r="2.1" fill="#1a1e28" stroke="#7a8292" stroke-width="0.8"/><circle cx="400.5" cy="363.5" r="2.1" fill="#1a1e28" stroke="#7a8292" stroke-width="0.8"/><circle cx="400.5" cy="369" r="2.1" fill="#1a1e28" stroke="#7a8292" stroke-width="0.8"/><circle cx="400.5" cy="374.5" r="2.1" fill="#1a1e28" stroke="#7a8292" stroke-width="0.8"/><circle cx="400.5" cy="380" r="2.1" fill="#1a1e28" stroke="#7a8292" stroke-width="0.8"/><circle cx="400.5" cy="386" r="2.1" fill="#1a1e28" stroke="#7a8292" stroke-width="0.8"/><circle cx="406" cy="352.5" r="2.1" fill="#1a1e28" stroke="#7a8292" stroke-width="0.8"/><circle cx="406" cy="358" r="2.1" fill="#1a1e28" stroke="#7a8292" stroke-width="0.8"/><circle cx="406" cy="363.5" r="2.1" fill="#1a1e28" stroke="#7a8292" stroke-width="0.8"/><circle cx="406" cy="369" r="2.1" fill="#1a1e28" stroke="#7a8292" stroke-width="0.8"/><circle cx="406" cy="374.5" r="2.1" fill="#1a1e28" stroke="#7a8292" stroke-width="0.8"/><circle cx="406" cy="380" r="2.1" fill="#1a1e28" stroke="#7a8292" stroke-width="0.8"/><circle cx="406" cy="386" r="2.1" fill="#1a1e28" stroke="#7a8292" stroke-width="0.8"/><circle cx="411.5" cy="352.5" r="2.1" fill="#1a1e28" stroke="#7a8292" stroke-width="0.8"/><circle cx="411.5" cy="358" r="2.1" fill="#1a1e28" stroke="#7a8292" stroke-width="0.8"/><circle cx="411.5" cy="363.5" r="2.1" fill="#1a1e28" stroke="#7a8292" stroke-width="0.8"/><circle cx="411.5" cy="369" r="2.1" fill="#1a1e28" stroke="#7a8292" stroke-width="0.8"/><circle cx="411.5" cy="374.5" r="2.1" fill="#1a1e28" stroke="#7a8292" stroke-width="0.8"/><circle cx="411.5" cy="380" r="2.1" fill="#1a1e28" stroke="#7a8292" stroke-width="0.8"/><circle cx="411.5" cy="386" r="2.1" fill="#1a1e28" stroke="#7a8292" stroke-width="0.8"/><circle cx="411.5" cy="384.7" r="2" fill="#5ac060"/><circle cx="386" cy="395" r="2.2" fill="#1a1e28" stroke="#7a8292" stroke-width="0.8"/><circle cx="392" cy="395" r="2.2" fill="#1a1e28" stroke="#7a8292" stroke-width="0.8"/><rect x="398" y="393" width="5" height="3" fill="#8a8e96"/><circle cx="411" cy="396" r="2.6" fill="#101218"/>
</g>
<!-- arrows -->
<path d="M292 219L192 241.3" stroke="#b07a12" stroke-width="2.4"/>
<path d="M188.5 242.6L193.3 238.3L195 245.2Z" fill="#b07a12"/>
<path d="M317 324L149.5 371.8" stroke="#f6d488" stroke-width="2.7"/>
<path d="M145.8 373.2L151.2 368.4L153 375.6Z" fill="#f6d488"/>
</svg>
</body></html>
